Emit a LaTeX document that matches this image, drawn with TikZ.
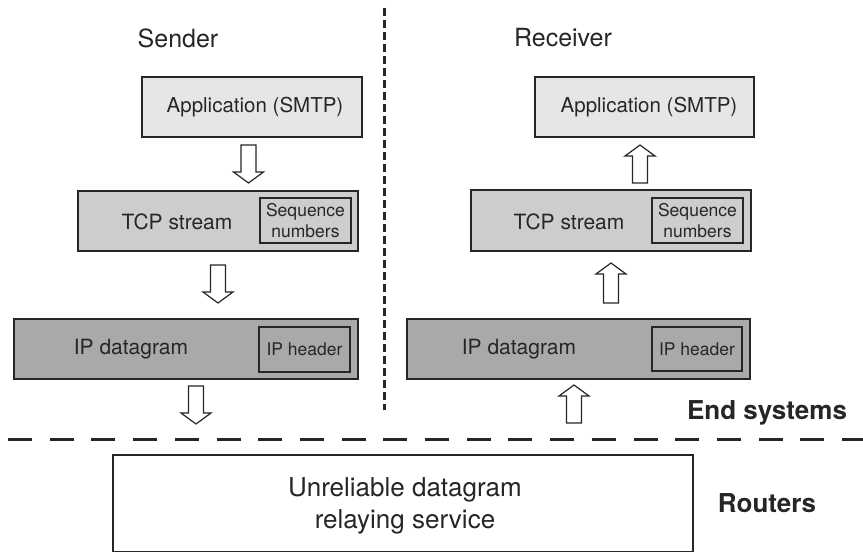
\documentclass[tikz,border=0pt]{standalone}
\usepackage{fontspec}
\setmainfont{TeX Gyre Heros}
\usetikzlibrary{calc}
\definecolor{ink}{HTML}{262626}
\definecolor{appfill}{HTML}{E6E6E6}
\definecolor{tcpfill}{HTML}{CDCDCD}
\definecolor{ipfill}{HTML}{A9A9A9}
\tikzset{
  boxline/.style={draw=ink, line width=1.5pt},
  lbl/.style={text=ink, inner sep=0pt},
  blk/.style={draw=ink, line width=1.2pt, fill=white, line join=miter},
}
% block arrow: #1 tail coordinate, #2 tip coordinate (vertical)
\newcommand{\blkarrow}[2]{%
  \path let \p1=#1, \p2=#2, \n1={\y2>\y1 ? 1 : -1} in
    [blk] (\x1-7.5,\y1) -- (\x1-7.5,\y2-\n1*11) -- (\x1-15,\y2-\n1*11) -- (\x1,\y2)
    -- (\x1+15,\y2-\n1*11) -- (\x1+7.5,\y2-\n1*11) -- (\x1+7.5,\y1) -- cycle;}
\begin{document}
\begin{tikzpicture}[x=1pt,y=-1pt]
\useasboundingbox (0,0) rectangle (863,553);

% separators
\coordinate (vtop) at (384.5,8);
\coordinate (vbot) at (384.5,410);
\draw[ink, line width=3pt, dash pattern=on 8pt off 4pt] (vtop) -- (vbot);
\coordinate (hl) at (8,440);
\coordinate (hr) at (863,440);
\draw[ink, line width=3pt, dash pattern=on 24pt off 17.7pt] (hl) -- (hr);

% titles
\node[lbl, font=\fontsize{25}{30}\selectfont] (tsend) at (178,38) {Sender};
\node[lbl, font=\fontsize{25}{30}\selectfont] (trecv) at (563,38) {Receiver};

% sender boxes
\path[boxline, fill=appfill] (142,77) rectangle (362,137);
\node[lbl, font=\fontsize{20.5}{24}\selectfont] (sapptxt) at (255,107) {Application (SMTP)};

\path[boxline, fill=tcpfill] (78,191) rectangle (358,251);
\path[boxline, fill=tcpfill, line width=1.2pt] (260,198) rectangle (351,243);
\node[lbl, font=\fontsize{21}{25}\selectfont] (stcp) at (177,222) {TCP stream};
\node[lbl, font=\fontsize{17.5}{21}\selectfont, align=center] (sseq) at (305.5,220.5) {Sequence\\numbers};

\path[boxline, fill=ipfill] (14,319) rectangle (358,379);
\path[boxline, fill=ipfill, line width=1.2pt] (259,327) rectangle (350,372);
\node[lbl, font=\fontsize{21}{25}\selectfont] (sip) at (131,349) {IP datagram};
\node[lbl, font=\fontsize{17.5}{21}\selectfont] (siph) at (304.5,349.5) {IP header};

% receiver boxes
\path[boxline, fill=appfill] (535,77) rectangle (754,137);
\node[lbl, font=\fontsize{20.5}{24}\selectfont] (rapptxt) at (649,107) {Application (SMTP)};

\path[boxline, fill=tcpfill] (471,190) rectangle (751,251);
\path[boxline, fill=tcpfill, line width=1.2pt] (652,198) rectangle (743,243);
\node[lbl, font=\fontsize{21}{25}\selectfont] (rtcp) at (569,222) {TCP stream};
\node[lbl, font=\fontsize{17.5}{21}\selectfont, align=center] (rseq) at (697.5,220.5) {Sequence\\numbers};

\path[boxline, fill=ipfill] (407,319) rectangle (750,379);
\path[boxline, fill=ipfill, line width=1.2pt] (652,327) rectangle (742,371);
\node[lbl, font=\fontsize{21}{25}\selectfont] (rip) at (519,349) {IP datagram};
\node[lbl, font=\fontsize{17.5}{21}\selectfont] (riph) at (697,349.5) {IP header};

% router box
\path[boxline] (113,455) rectangle (693,551.5);
\node[lbl, font=\fontsize{26}{32}\selectfont, align=center] (router) at (405,506) {Unreliable datagram\\relaying service};

% side labels
\node[lbl, font=\fontsize{26}{30}\selectfont\bfseries] (endsys) at (767,413) {End systems};
\node[lbl, font=\fontsize{26}{30}\selectfont\bfseries] (routers) at (767,503) {Routers};

% block arrows
\coordinate (a1t) at (248.5,145); \coordinate (a1h) at (248.5,183);
\coordinate (a2t) at (218,265);   \coordinate (a2h) at (218,303);
\coordinate (a3t) at (196,386);   \coordinate (a3h) at (196,424);
\coordinate (b1t) at (640,183);   \coordinate (b1h) at (640,145);
\coordinate (b2t) at (611,303);   \coordinate (b2h) at (611,263);
\coordinate (b3t) at (574,423);   \coordinate (b3h) at (574,385);
\blkarrow{(a1t)}{(a1h)}
\blkarrow{(a2t)}{(a2h)}
\blkarrow{(a3t)}{(a3h)}
\blkarrow{(b1t)}{(b1h)}
\blkarrow{(b2t)}{(b2h)}
\blkarrow{(b3t)}{(b3h)}
\end{tikzpicture}
\end{document}
